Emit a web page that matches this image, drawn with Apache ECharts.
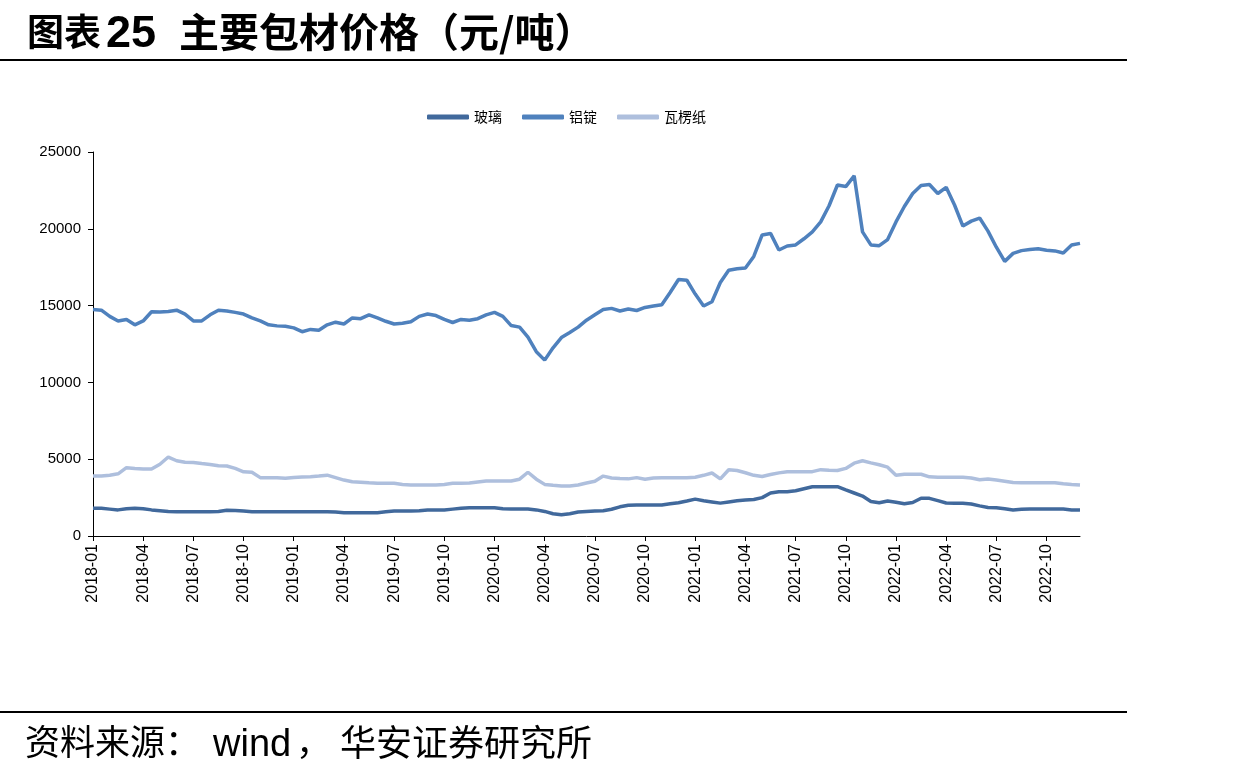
<!DOCTYPE html>
<html><head><meta charset="utf-8">
<script src="https://cdn.jsdelivr.net/npm/echarts@6/dist/echarts.min.js"></script>
<style>html,body{margin:0;padding:0;background:#fff}#c{width:1237px;height:779px}</style>
</head><body><div id="c"></div>
<script>
// Half-monthly dates, 2018-01-01 .. 2022-12-01
const categories = [
"2018-01-01","2018-01-16","2018-02-01","2018-02-16","2018-03-01","2018-03-16","2018-04-01","2018-04-16","2018-05-01","2018-05-16","2018-06-01","2018-06-16",
"2018-07-01","2018-07-16","2018-08-01","2018-08-16","2018-09-01","2018-09-16","2018-10-01","2018-10-16","2018-11-01","2018-11-16","2018-12-01","2018-12-16",
"2019-01-01","2019-01-16","2019-02-01","2019-02-16","2019-03-01","2019-03-16","2019-04-01","2019-04-16","2019-05-01","2019-05-16","2019-06-01","2019-06-16",
"2019-07-01","2019-07-16","2019-08-01","2019-08-16","2019-09-01","2019-09-16","2019-10-01","2019-10-16","2019-11-01","2019-11-16","2019-12-01","2019-12-16",
"2020-01-01","2020-01-16","2020-02-01","2020-02-16","2020-03-01","2020-03-16","2020-04-01","2020-04-16","2020-05-01","2020-05-16","2020-06-01","2020-06-16",
"2020-07-01","2020-07-16","2020-08-01","2020-08-16","2020-09-01","2020-09-16","2020-10-01","2020-10-16","2020-11-01","2020-11-16","2020-12-01","2020-12-16",
"2021-01-01","2021-01-16","2021-02-01","2021-02-16","2021-03-01","2021-03-16","2021-04-01","2021-04-16","2021-05-01","2021-05-16","2021-06-01","2021-06-16",
"2021-07-01","2021-07-16","2021-08-01","2021-08-16","2021-09-01","2021-09-16","2021-10-01","2021-10-16","2021-11-01","2021-11-16","2021-12-01","2021-12-16",
"2022-01-01","2022-01-16","2022-02-01","2022-02-16","2022-03-01","2022-03-16","2022-04-01","2022-04-16","2022-05-01","2022-05-16","2022-06-01","2022-06-16",
"2022-07-01","2022-07-16","2022-08-01","2022-08-16","2022-09-01","2022-09-16","2022-10-01","2022-10-16","2022-11-01","2022-11-16","2022-12-01"
];

const glass = [
1800,1800,1750,1700,1780,1800,1780,1700,1650,1600,1580,1580,
1580,1580,1580,1600,1680,1660,1620,1580,1580,1580,1580,1580,
1580,1580,1580,1580,1580,1560,1520,1520,1520,1520,1520,1580,
1630,1630,1630,1650,1690,1690,1690,1750,1800,1840,1840,1840,
1840,1780,1760,1760,1760,1700,1600,1450,1380,1450,1560,1600,
1630,1650,1740,1900,2000,2020,2020,2020,2020,2100,2170,2280,
2400,2300,2220,2140,2220,2290,2340,2380,2500,2800,2880,2880,
2950,3080,3210,3210,3210,3210,3000,2800,2600,2250,2170,2280,
2200,2100,2180,2460,2450,2300,2150,2130,2130,2080,1960,1860,
1840,1770,1690,1740,1760,1760,1760,1760,1760,1700,1690
];

const aluminum = [
14750,14700,14300,14000,14100,13750,14000,14600,14580,14620,14700,14450,
14000,14000,14400,14700,14650,14560,14450,14200,14000,13750,13680,13650,
13550,13300,13450,13400,13750,13920,13800,14200,14150,14400,14200,13980,
13800,13850,13950,14300,14450,14350,14100,13900,14100,14050,14150,14400,
14560,14300,13700,13600,12950,12000,11450,12250,12920,13250,13600,14050,
14400,14750,14820,14650,14780,14680,14880,14970,15050,15850,16700,16650,
15750,14970,15250,16500,17300,17400,17450,18200,19600,19700,18620,18880,
18950,19350,19800,20450,21500,22850,22750,23450,19800,18950,18900,19300,
20450,21450,22300,22820,22880,22300,22700,21550,20180,20500,20700,19850,
18800,17880,18400,18580,18650,18700,18600,18560,18420,18940,19050
];

const corrugated = [
3900,3900,3960,4050,4450,4400,4360,4360,4670,5140,4900,4800,
4790,4720,4660,4580,4560,4400,4180,4150,3800,3800,3800,3760,
3810,3840,3860,3900,3960,3800,3640,3530,3500,3460,3430,3430,
3430,3360,3320,3320,3320,3320,3360,3430,3430,3450,3520,3580,
3580,3580,3580,3700,4150,3700,3360,3300,3260,3260,3320,3450,
3560,3900,3780,3740,3720,3800,3700,3780,3800,3800,3800,3800,
3830,3950,4100,3720,4310,4260,4120,3950,3870,4000,4110,4180,
4190,4190,4190,4320,4280,4260,4400,4740,4900,4760,4640,4480,
3950,4020,4020,4020,3850,3820,3820,3820,3820,3780,3660,3710,
3640,3560,3480,3470,3470,3470,3470,3470,3400,3350,3320
];

const seriesNames = ["玻璃","铝锭","瓦楞纸"];
const seriesColors = ["#41699C","#4F81BD","#AEBFDD"];

const CJK = '"Noto Sans CJK SC", sans-serif';
const LAT = '"Liberation Sans", Arial, sans-serif';

const chart = echarts.init(document.getElementById('c'), null, {renderer:'canvas'});
const dataSets = [glass, aluminum, corrugated];
chart.setOption({
  animation:false,
  backgroundColor:'#fff',
  graphic:[
    {type:'text', x:27, y:32, style:{text:'图表', font:'bold 37px '+CJK, fill:'#000', textVerticalAlign:'middle'}},
    {type:'text', x:106, y:35, style:{text:'25', font:'bold 45px '+LAT, fill:'#000', textVerticalAlign:'middle'}},
    {type:'text', x:179, y:32, style:{text:'主要包材价格（元/吨）', font:'bold 40px '+CJK, fill:'#000', textVerticalAlign:'middle'}},
    {type:'rect', shape:{x:0,y:59,width:1127,height:2}, style:{fill:'#000'}},
    {type:'rect', shape:{x:0,y:711,width:1127,height:2}, style:{fill:'#000'}},
    {type:'text', x:25, y:742, style:{text:'资料来源：', font:'35px '+CJK, fill:'#000', textVerticalAlign:'middle'}},
    {type:'text', x:213, y:746, style:{text:'wind', font:'38px '+LAT, fill:'#000', textVerticalAlign:'middle'}},
    {type:'text', x:296, y:742, style:{text:'，', font:'35px '+CJK, fill:'#000', textVerticalAlign:'middle'}},
    {type:'text', x:340, y:742, style:{text:'华安证券研究所', font:'36px '+CJK, fill:'#000', textVerticalAlign:'middle'}}
  ],
  legend:{
    data:seriesNames, left:422, top:105, icon:'roundRect', itemWidth:42, itemHeight:5, itemGap:20,
    textStyle:{fontSize:14, color:'#000', fontFamily:CJK}
  },
  grid:{left:93, right:157, top:152, bottom:243, containLabel:false},
  xAxis:{
    type:'category', data:categories, boundaryGap:false,
    axisLine:{lineStyle:{color:'#000', width:1}},
    axisTick:{interval:5, length:5, lineStyle:{color:'#000'}},
    axisLabel:{interval:5, rotate:90, margin:8, fontSize:16, color:'#000', fontFamily:LAT,
      formatter:v=>v.slice(0,7)},
    splitLine:{show:false}
  },
  yAxis:{
    type:'value', min:0, max:25000, interval:5000,
    axisLine:{show:true, lineStyle:{color:'#000', width:1}},
    axisTick:{show:true, length:5, lineStyle:{color:'#000'}},
    axisLabel:{fontSize:15, color:'#000', margin:12, fontFamily:LAT, formatter:v=>String(v)},
    splitLine:{show:false}
  },
  series: seriesNames.map((n,k)=>({
    name:n, type:'line', data:dataSets[k], showSymbol:false, symbol:'none',
    lineStyle:{width:3.5, color:seriesColors[k]}, itemStyle:{color:seriesColors[k]}, z: k===1?3:2
  }))
});
</script></body></html>
